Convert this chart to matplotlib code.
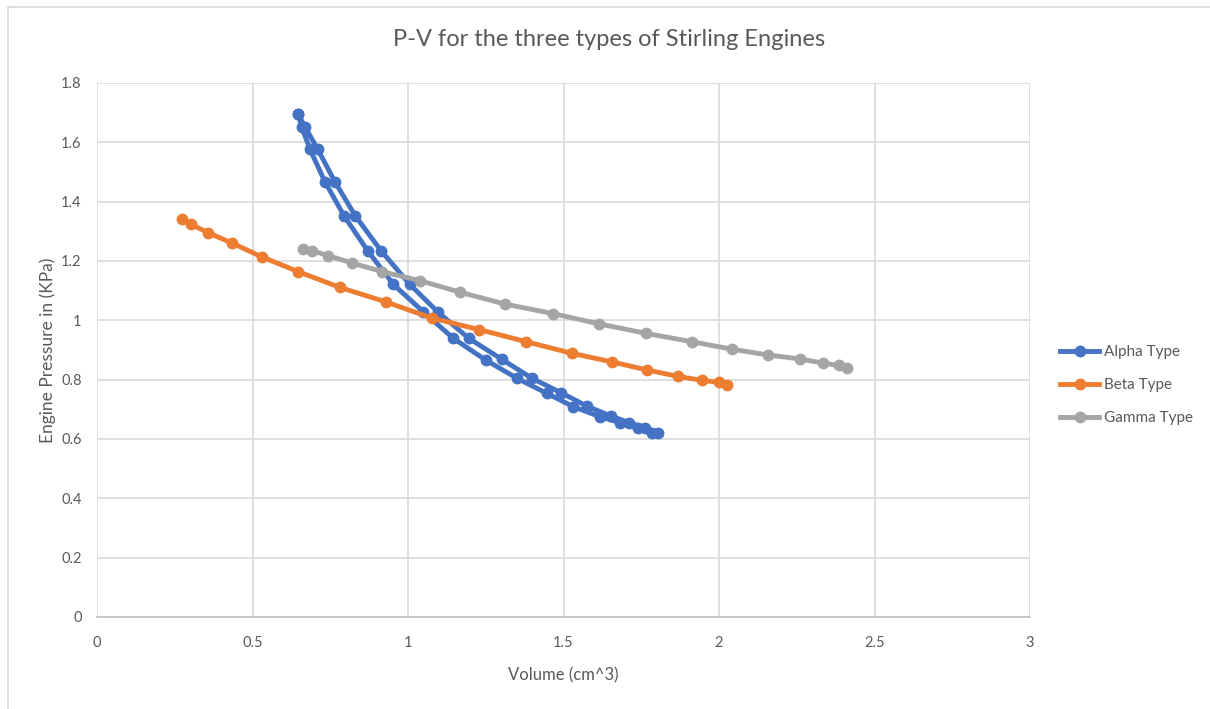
import matplotlib.pyplot as plt
from matplotlib.patches import Rectangle
from matplotlib.ticker import FuncFormatter

# Alpha type: closed loop, down one branch then back up the other
alpha_v = [0.647, 0.658, 0.685, 0.733, 0.794, 0.870, 0.953, 1.049, 1.146, 1.250,
           1.350, 1.446, 1.532, 1.617, 1.682, 1.739, 1.784,
           1.805, 1.762, 1.712, 1.653, 1.575, 1.492, 1.398, 1.301, 1.196,
           1.097, 1.006, 0.913, 0.830, 0.765, 0.710, 0.669, 0.647]
alpha_p = [1.695, 1.652, 1.576, 1.467, 1.353, 1.235, 1.121, 1.029, 0.939, 0.866,
           0.805, 0.754, 0.709, 0.675, 0.655, 0.636, 0.621,
           0.619, 0.638, 0.655, 0.677, 0.711, 0.756, 0.805, 0.869, 0.939,
           1.027, 1.121, 1.235, 1.353, 1.467, 1.576, 1.652, 1.695]

beta_v = [0.272, 0.302, 0.356, 0.433, 0.530, 0.647, 0.781, 0.929, 1.076, 1.228,
          1.380, 1.526, 1.655, 1.768, 1.868, 1.944, 2.001, 2.025]
beta_p = [1.341, 1.324, 1.296, 1.261, 1.214, 1.164, 1.111, 1.062, 1.008, 0.969,
          0.928, 0.889, 0.860, 0.833, 0.811, 0.798, 0.791, 0.782]

gamma_v = [0.661, 0.690, 0.744, 0.821, 0.917, 1.037, 1.167, 1.311, 1.465, 1.615,
           1.766, 1.912, 2.041, 2.159, 2.259, 2.333, 2.385, 2.411]
gamma_p = [1.240, 1.235, 1.218, 1.193, 1.164, 1.134, 1.095, 1.055, 1.023, 0.988,
           0.956, 0.928, 0.903, 0.883, 0.870, 0.856, 0.848, 0.839]

x_ticks = [0, 0.5, 1, 1.5, 2, 2.5, 3]
y_ticks = [0, 0.2, 0.4, 0.6, 0.8, 1.0, 1.2, 1.4, 1.6, 1.8]

plt.rcParams['font.family'] = ['Lato', 'DejaVu Sans']
txt = '#595959'

fig = plt.figure(figsize=(12.1, 7.09), dpi=100)
fig.patches.append(Rectangle((8 / 1210, -0.1), 1.2, 1 - 7 / 709 + 0.1,
                             transform=fig.transFigure, fill=False,
                             edgecolor='#d9d9d9', linewidth=1.2))
ax = fig.add_axes([97 / 1210, 92 / 709, 933 / 1210, 534 / 709])

ax.plot(alpha_v, alpha_p, color='#4472C4', lw=3.5, marker='o', ms=7.5, label='Alpha Type')
ax.plot(beta_v, beta_p, color='#ED7D31', lw=3.5, marker='o', ms=7.5, label='Beta Type')
ax.plot(gamma_v, gamma_p, color='#A5A5A5', lw=3.5, marker='o', ms=7.5, label='Gamma Type')

ax.set_xlim(0, 3)
ax.set_ylim(0, 1.8)
ax.set_xticks(x_ticks)
ax.set_yticks(y_ticks)
ax.xaxis.set_major_formatter(FuncFormatter(lambda v, p: '%g' % v))
ax.yaxis.set_major_formatter(FuncFormatter(lambda v, p: '%g' % v))
ax.grid(True, color='#d9d9d9', lw=1.2)
ax.set_axisbelow(True)
for s in ['top', 'right', 'left']:
    ax.spines[s].set_visible(False)
ax.spines['bottom'].set_color('#bfbfbf')
ax.spines['bottom'].set_linewidth(1.2)
ax.tick_params(length=0, labelsize=10.5, colors=txt)
ax.tick_params(axis='x', pad=14)
ax.tick_params(axis='y', pad=11)

fig.text(0.503, 1 - 40 / 709, 'P-V for the three types of Stirling Engines',
         fontsize=17, color=txt, ha='center', va='center')
ax.set_xlabel('Volume (cm^3)', fontsize=12, color=txt, labelpad=12)
ax.set_ylabel('Engine Pressure in (KPa)', fontsize=12.5, color=txt, labelpad=4)

fig.legend(loc='center left', bbox_to_anchor=(1046 / 1210, 1 - 385 / 709),
           frameon=False, fontsize=11, labelcolor=txt, labelspacing=1.25,
           handlelength=2.6, handletextpad=0.3)

fig.savefig('out.png', dpi=100)
